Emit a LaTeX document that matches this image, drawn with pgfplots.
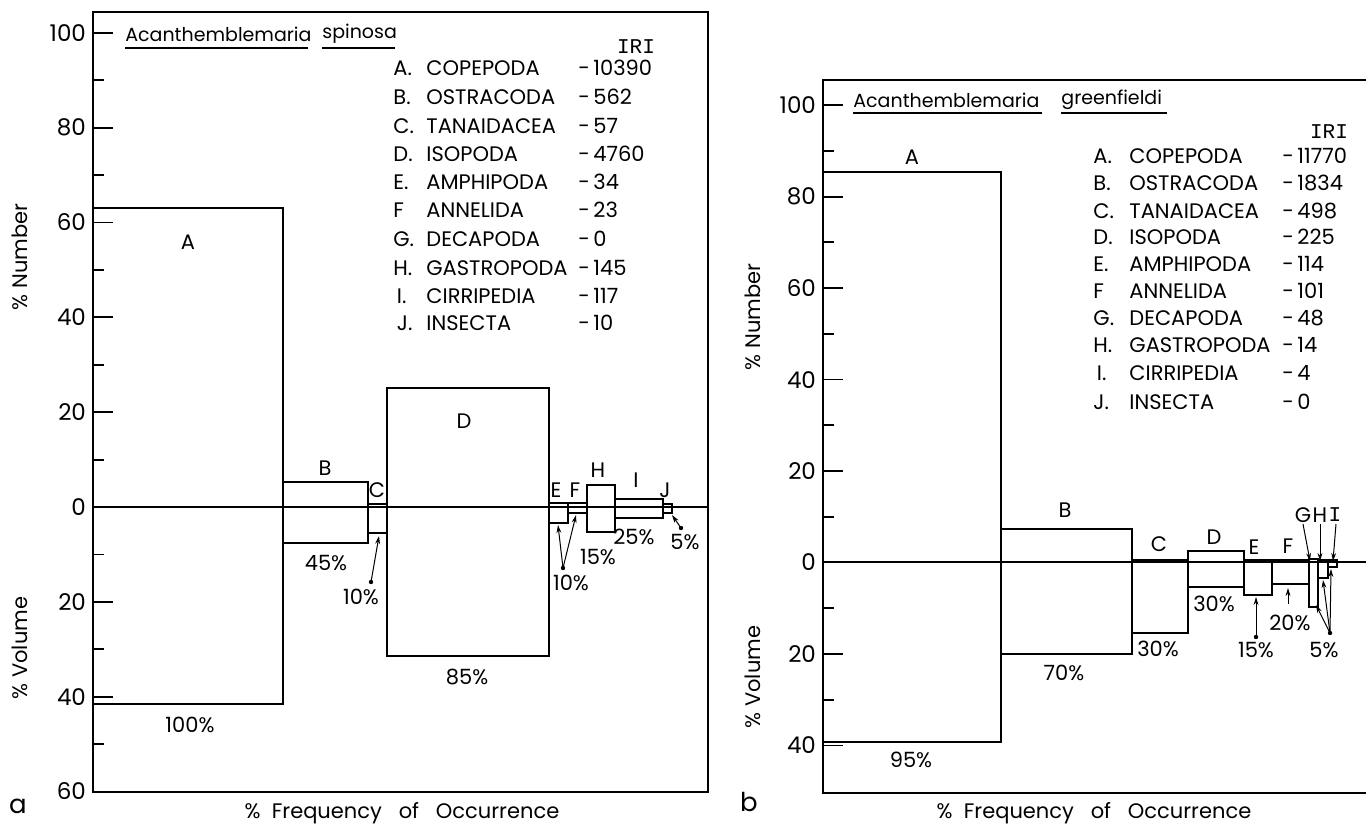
\documentclass[border=0pt]{standalone}
\usepackage{fontspec}
\setmainfont{Poppins}
\newfontfamily\monof{Liberation Mono}
\usepackage{pgfplots}
\pgfplotsset{compat=1.18}
\usetikzlibrary{arrows.meta}

% box edges: left edge of each prey group (% frequency, cumulative),
% height up = % number, height down = % volume
\pgfplotstableread{
x    num   vol
0    63.0  -41.5
100  5.3   -7.5
145  0.6   -5.4
155  25.1  -31.4
240  0.8   -3.4
250  0.9   -1.2
260  4.6   -5.2
275  1.7   -2.4
300  0.6   -1.2
305  0     0
}\spinosa
\pgfplotstableread{
x    num   vol
0    85.4  -39.2
95   7.4   -19.9
165  0.65  -15.4
195  2.6   -5.4
225  0.65  -7.0
240  0.65  -4.8
260  0.8   -9.7
265  0.65  -3.3
270  0.65  -0.9
275  0     0
}\greenfieldi

\pgfplotsset{
  panel/.style={
    scale only axis, anchor=south west,
    xtick=\empty, ytick pos=left, tick align=inside,
    major tick length=10pt, minor tick length=5.5pt,
    axis line style={line width=0.9pt},
    every tick/.style={black, line width=0.9pt},
    yticklabel style={font=\fontsize{11.5}{13}\selectfont},
    /pgf/number format/assume math mode=true,
    clip=false,
  },
  box/.style={ybar interval, draw=black, fill=none, line width=1pt},
}
\tikzset{
  lab/.style={font=\fontsize{10.5}{12}\selectfont, inner sep=0pt},
  ttl/.style={font=\fontsize{9.5}{11}\selectfont, inner sep=0pt, anchor=west},
  arr/.style={line width=0.5pt, -{Stealth[length=4pt,width=2.4pt]}},
}

\begin{document}
\begin{tikzpicture}
\useasboundingbox (0,0) rectangle (683pt,412.5pt);
\clip (0,0) rectangle (683pt,412.5pt);

\begin{axis}[panel, at={(46.5pt,16.5pt)}, width=307.5pt, height=390pt,
  xmin=0, xmax=323.7, ymin=-60.1, ymax=104.4,
  ytick={-60,-40,-20,0,20,40,60,80,100},
  yticklabels={60,40,20,0,20,40,60,80,100},
  minor ytick={-50,-30,-10,10,30,50,70,90}]
\addplot[box] table[x=x, y=num] {\spinosa};
\addplot[box] table[x=x, y=vol] {\spinosa};
\addplot[black, line width=1pt] coordinates {(0,0) (323.7,0)};
\end{axis}

\begin{axis}[panel, at={(411.5pt,16pt)}, width=278.5pt, height=356.5pt,
  xmin=0, xmax=297.9, ymin=-50.4, ymax=105.5,
  ytick={-40,-20,0,20,40,60,80,100},
  yticklabels={40,20,0,20,40,60,80,100},
  minor ytick={-30,-10,10,30,50,70,90}]
\addplot[box] table[x=x, y=num] {\greenfieldi};
\addplot[box] table[x=x, y=vol] {\greenfieldi};
\addplot[black, line width=1pt] coordinates {(0,0) (297.9,0)};
\end{axis}

% annotations in pixel units of the reference (y downwards)
\begin{scope}[x=0.5pt, y=-0.5pt, shift={(0pt,412.5pt)}]
% ---- panel a
\node[ttl] at (125,34) {Acanthemblemaria};
\node[ttl] at (322,34) {spinosa};
\draw[line width=0.7pt] (125,48) -- (308,48) (322,48) -- (395,48);
\node[lab, font=\monof\fontsize{10.5}{12}\selectfont] at (636,47) {IRI};
\foreach \y/\l/\n/\v in {68/A./COPEPODA/10390, 97/B./OSTRACODA/562,
  126/C./TANAIDACEA/57, 154/D./ISOPODA/4760, 182/E./AMPHIPODA/34,
  210/F/ANNELIDA/23, 239/G./DECAPODA/0, 268/H./GASTROPODA/145,
  296/\,I./CIRRIPEDIA/117, 323/\,J./INSECTA/10}{
  \node[lab, anchor=west] at (393,\y) {\l};
  \node[lab, anchor=west] at (426,\y) {\n};
  \node[lab, anchor=west] at (578,\y) {-\,\v};
}
\node[lab, rotate=90] at (20,257) {\% Number};
\node[lab, rotate=90] at (20,648) {\% Volume};
\node[lab] at (402,813) {\%\ \ Frequency\ \ \ of\ \ \ Occurrence};
\node[lab, font=\fontsize{13}{13}\selectfont] at (18,806) {a};
\foreach \x/\y/\t in {188/242/A, 325/468/B, 377/490/C, 464/421/D, 556/490/E,
  575/490/F, 598/470/H, 636/480/I, 665/490/J,
  326/563/45\%, 361/597/10\%, 467/677/85\%, 190/725/100\%, 571/583/10\%,
  598/557/15\%, 634/537/25\%, 685/542/5\%}
  \node[lab] at (\x,\y) {\t};
\fill (371,582) circle (2.2);
\draw[arr] (371,582) -- (379,536);
\fill (563,568) circle (2.2);
\draw[arr] (563,568) -- (558,525);
\draw[arr] (563,568) -- (576,515);
\fill (681,528) circle (2.2);
\draw[arr] (681,528) -- (672,515);
% ---- panel b
\node[ttl] at (853,100) {Acanthemblemaria};
\node[ttl] at (1061,100) {greenfieldi};
\draw[line width=0.7pt] (853,113) -- (1042,113) (1061,113) -- (1167,113);
\node[lab, font=\monof\fontsize{10.5}{12}\selectfont] at (1329,132) {IRI};
\foreach \y/\l/\n/\v in {156/A./COPEPODA/11770, 183/B./OSTRACODA/1834,
  211/C./TANAIDACEA/498, 237/D./ISOPODA/225, 264/E./AMPHIPODA/114,
  291/F/ANNELIDA/101, 318/G./DECAPODA/48, 345/H./GASTROPODA/14,
  373/\,I./CIRRIPEDIA/4, 402/J./INSECTA/0}{
  \node[lab, anchor=west] at (1093,\y) {\l};
  \node[lab, anchor=west] at (1129,\y) {\n};
  \node[lab, anchor=west] at (1282,\y) {-\,\v};
}
\node[lab, rotate=90] at (753,317) {\% Number};
\node[lab, rotate=90] at (753,677) {\% Volume};
\node[lab] at (1094,813) {\%\ \ Frequency\ \ \ of\ \ \ Occurrence};
\node[lab, font=\fontsize{13}{13}\selectfont] at (749,802) {b};
\foreach \x/\y/\t in {912/157/A, 1065/510/B, 1159/544/C, 1214/537/D,
  1254/547/E, 1288/546/F, 1303/515/G, 1320/515/H,
  1214/604/30\%, 1158/649/30\%, 1064/673/70\%, 911/760/95\%,
  1290/623/20\%, 1256/650/15\%, 1324/650/5\%}
  \node[lab] at (\x,\y) {\t};
\node[lab, font=\monof\fontsize{10.5}{12}\selectfont] at (1335,515) {I};
\draw[arr] (1303,524) -- (1310,561);
\draw[arr] (1320,524) -- (1320,561);
\draw[arr] (1336,524) -- (1333,561);
\draw[arr] (1288,604) -- (1288,588);
\fill (1256,637) circle (2.2);
\draw[arr] (1256,637) -- (1256,597);
\fill (1330,633) circle (2.2);
\draw[arr] (1330,633) -- (1316,605);
\draw[arr] (1330,633) -- (1323,580);
\draw[arr] (1330,633) -- (1331,569);
\end{scope}
\end{tikzpicture}
\end{document}
